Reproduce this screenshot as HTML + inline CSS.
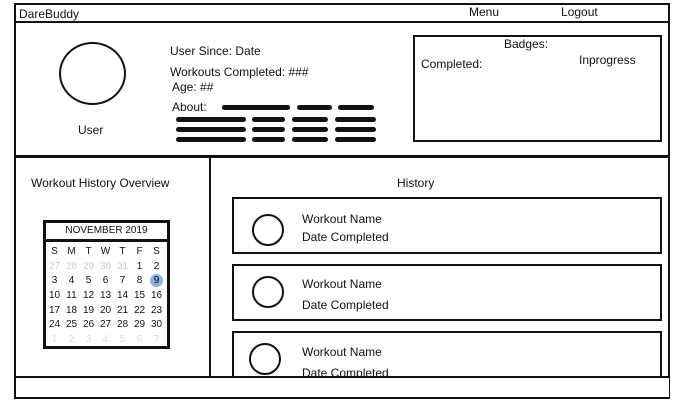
<!DOCTYPE html>
<html><head><meta charset="utf-8"><style>
body{margin:0;width:680px;height:408px;background:#fff;position:relative;overflow:hidden;font-family:"Liberation Sans",sans-serif;color:#111}
.a{position:absolute;box-sizing:border-box}
.b{border:2px solid #111}
.t{position:absolute;font-size:12px;white-space:nowrap}
.circ{position:absolute;border:2px solid #111;border-radius:50%;box-sizing:border-box}
.scr{position:absolute;height:5px;background:#111;border-radius:3px}
.cal td{width:17px;height:14.6px;text-align:center;font-size:10px;padding:0;line-height:14px}
</style></head><body>
<div class="a b" style="left:14px;top:3px;width:656px;height:396px"></div>
<div class="a" style="left:14px;top:21px;width:656px;height:2px;background:#111"></div>
<div class="t" style="left:19px;top:7px">DareBuddy</div>
<div class="t" style="left:469px;top:5px">Menu</div>
<div class="t" style="left:561px;top:5px">Logout</div>
<div class="a" style="left:14px;top:155px;width:656px;height:3px;background:#111"></div>
<div class="circ" style="left:59px;top:42px;width:67px;height:63px"></div>
<div class="t" style="left:78px;top:123px">User</div>
<div class="t" style="left:170px;top:44px">User Since: Date</div>
<div class="t" style="left:170px;top:65px">Workouts Completed: ###</div>
<div class="t" style="left:172px;top:80px">Age: ##</div>
<div class="t" style="left:172px;top:100px">About:</div>
<div>
<div class="scr" style="left:222px;top:105px;width:68px"></div><div class="scr" style="left:297px;top:105px;width:35px"></div><div class="scr" style="left:338px;top:105px;width:36px"></div>
<div class="scr" style="left:176px;top:117px;width:70px"></div><div class="scr" style="left:252px;top:117px;width:33px"></div><div class="scr" style="left:292px;top:117px;width:36px"></div><div class="scr" style="left:335px;top:117px;width:41px"></div>
<div class="scr" style="left:176px;top:127px;width:70px"></div><div class="scr" style="left:252px;top:127px;width:33px"></div><div class="scr" style="left:292px;top:127px;width:36px"></div><div class="scr" style="left:335px;top:127px;width:41px"></div>
<div class="scr" style="left:176px;top:137px;width:70px"></div><div class="scr" style="left:252px;top:137px;width:33px"></div><div class="scr" style="left:292px;top:137px;width:36px"></div><div class="scr" style="left:335px;top:137px;width:41px"></div>
</div>
<div class="a b" style="left:413px;top:35px;width:249px;height:107px"></div>
<div class="t" style="left:504px;top:37px">Badges:</div>
<div class="t" style="left:421px;top:57px">Completed:</div>
<div class="t" style="left:579px;top:53px">Inprogress</div>
<div class="a" style="left:209px;top:157px;width:2px;height:221px;background:#111"></div>
<div class="t" style="left:31px;top:176px">Workout History Overview</div>
<div class="a" style="left:43px;top:220px;width:127px;height:129px;border:3px solid #111">
<div style="height:16px;border-bottom:3px solid #111;font-size:10px;text-align:center;line-height:16px">NOVEMBER 2019</div>
<table class="cal" style="border-collapse:collapse;margin-left:0px;margin-top:3px">
<tr><td>S</td><td>M</td><td>T</td><td>W</td><td>T</td><td>F</td><td>S</td></tr>
<tr style="color:#ccc"><td>27</td><td>28</td><td>29</td><td>30</td><td>31</td><td style="color:#111">1</td><td style="color:#111">2</td></tr>
<tr><td>3</td><td>4</td><td>5</td><td>6</td><td>7</td><td>8</td><td><span style="display:inline-block;width:13px;height:13px;border-radius:50%;background:#8fb0e8;line-height:13px">9</span></td></tr>
<tr><td>10</td><td>11</td><td>12</td><td>13</td><td>14</td><td>15</td><td>16</td></tr>
<tr><td>17</td><td>18</td><td>19</td><td>20</td><td>21</td><td>22</td><td>23</td></tr>
<tr><td>24</td><td>25</td><td>26</td><td>27</td><td>28</td><td>29</td><td>30</td></tr>
<tr style="color:#ddd"><td>1</td><td>2</td><td>3</td><td>4</td><td>5</td><td>6</td><td>7</td></tr>
</table></div>
<div class="t" style="left:397px;top:176px">History</div>
<div class="a b" style="left:232px;top:197px;width:430px;height:57px"></div>
<div class="circ" style="left:252px;top:214px;width:32px;height:32px"></div>
<div class="t" style="left:302px;top:212px">Workout Name</div><div class="t" style="left:302px;top:230px">Date Completed</div>
<div class="a b" style="left:232px;top:264px;width:430px;height:57px"></div>
<div class="circ" style="left:252px;top:276px;width:32px;height:32px"></div>
<div class="t" style="left:302px;top:277px">Workout Name</div><div class="t" style="left:302px;top:298px">Date Completed</div>
<div class="a b" style="left:232px;top:331px;width:430px;height:60px"></div>
<div class="a" style="left:212px;top:378px;width:457px;height:20px;background:#fff"></div>
<div class="circ" style="left:249px;top:343px;width:32px;height:32px"></div>
<div class="t" style="left:302px;top:345px">Workout Name</div><div class="t" style="left:302px;top:366px;height:10px;overflow:hidden">Date Completed</div>
<div class="a" style="left:14px;top:376px;width:656px;height:2px;background:#111"></div>
<div class="a" style="left:14px;top:397px;width:656px;height:2px;background:#111"></div>
</body></html>
